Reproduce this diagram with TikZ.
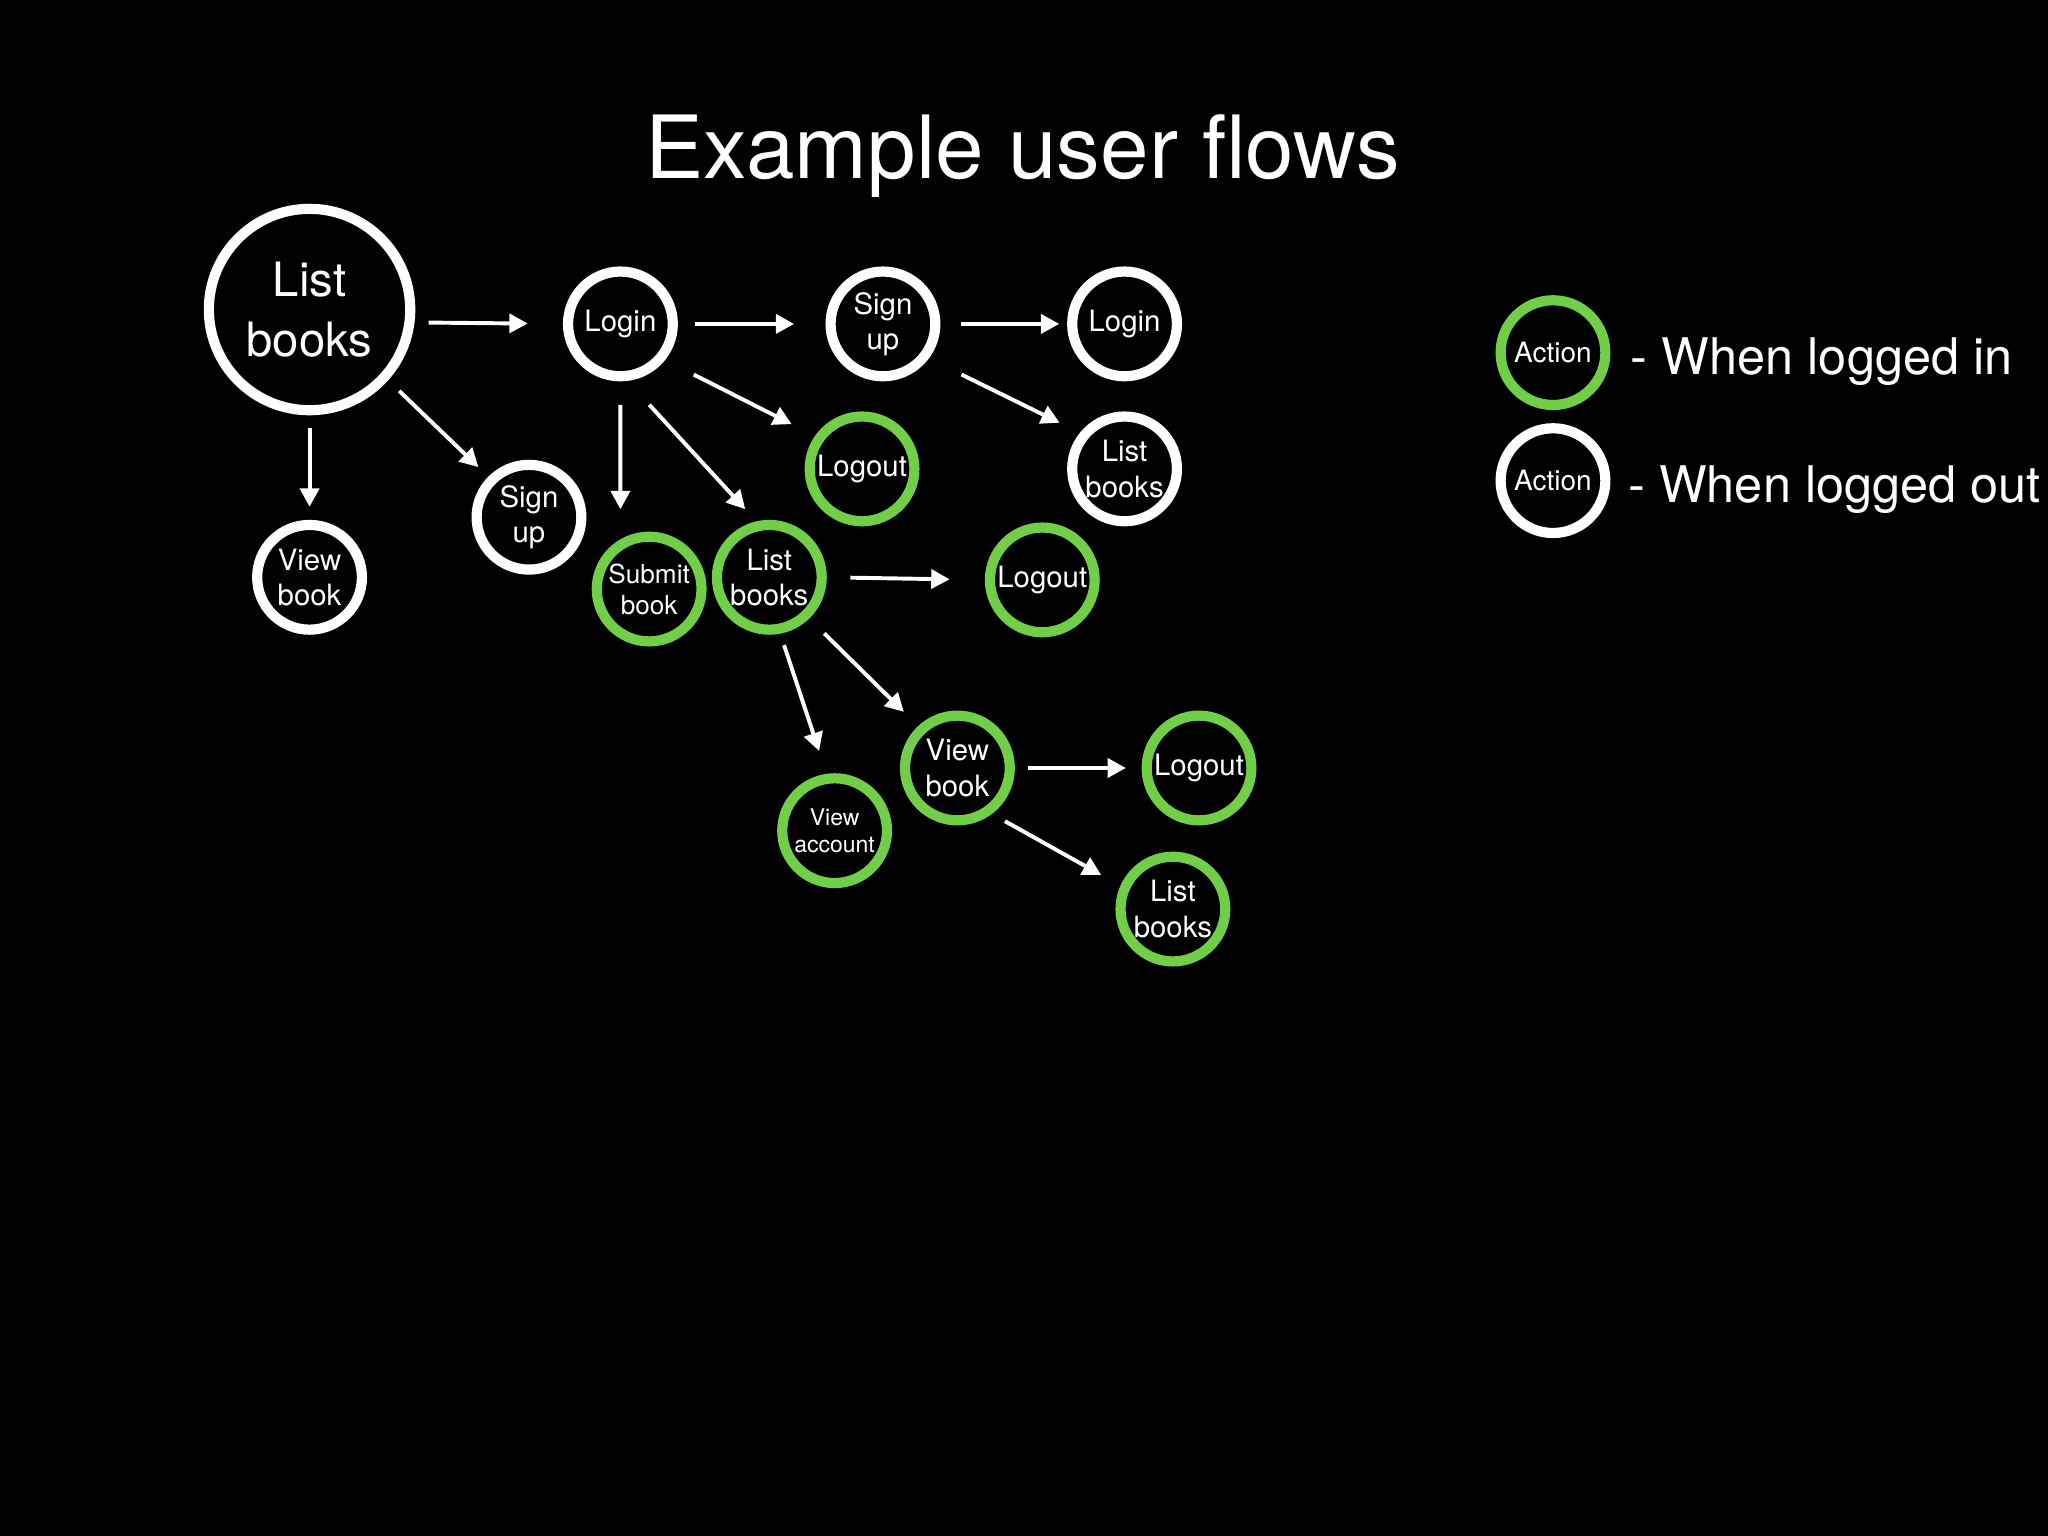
\documentclass[tikz,border=0pt]{standalone}
\usepackage{fontspec}
\setmainfont{TeX Gyre Heros}
\usepackage{xcolor}
\usepackage{tikz}
\usetikzlibrary{arrows.meta}
\definecolor{loggedin}{RGB}{112,207,71}
\tikzset{ state_out/.style = {circle, draw=white, line width=0.78mm, minimum size=8.02mm, inner sep=0pt, text=white, align=center, font=\fontsize{6.4}{7.7}\selectfont} }
\tikzset{ state_in/.style = {state_out, draw=loggedin} }
\tikzset{ flow/.style = {white, line width=0.3mm, -{Triangle[length=1.4mm,width=1.45mm]}} }
\tikzset{ legend_text/.style = {text=white, inner sep=0pt, anchor=base west, font=\fontsize{11}{13}\selectfont} }

\begin{document}
\begin{tikzpicture}
    \fill[black] (0,0) rectangle (15.68,-11.76);
    \useasboundingbox (0,0) rectangle (15.68,-11.76);
    \node[anchor=base, text=white, font=\fontsize{19}{23}\selectfont] (title) at (7.83,-1.37) {Example user flows};
    \node[state_out, minimum size=15.42mm, font=\fontsize{10.3}{13}\selectfont] (LB) at (2.37,-2.37) {List\\books};
    \node[state_out] (LI) at (4.75,-2.48) {Login};
    \node[state_out] (SU1) at (6.76,-2.48) {Sign\\up};
    \node[state_out] (LI2) at (8.61,-2.48) {Login};
    \node[state_out] (LB2) at (8.61,-3.59) {List\\books};
    \node[state_in] (LO1) at (6.60,-3.59) {Logout};
    \node[state_out] (SU0) at (4.05,-3.96) {Sign\\up};
    \node[state_out] (VB0) at (2.37,-4.42) {View\\book};
    \node[state_in, font=\fontsize{5.7}{6.8}\selectfont] (SB) at (4.97,-4.51) {Submit\\book};
    \node[state_in] (LB3) at (5.89,-4.42) {List\\books};
    \node[state_in] (LO2) at (7.98,-4.44) {Logout};
    \node[state_in] (VB1) at (7.33,-5.88) {View\\book};
    \node[state_in, font=\fontsize{5}{6}\selectfont] (VA) at (6.39,-6.36) {View\\account};
    \node[state_in] (LO3) at (9.18,-5.88) {Logout};
    \node[state_in] (LB4) at (8.98,-6.96) {List\\books};
    \node[state_in, font=\fontsize{6.1}{7}\selectfont] (KI) at (11.89,-2.70) {Action};
    \node[state_out, font=\fontsize{6.1}{7}\selectfont] (KO) at (11.89,-3.68) {Action};
    \node[legend_text] (KItext) at (12.48,-2.87) {- When logged in};
    \node[legend_text] (KOtext) at (12.46,-3.85) {- When logged out};
    \draw[flow, shorten <=1.07mm, shorten >=2.7mm] (LB.-7.8) -- (LI.west);
    \draw[flow, shorten <=1mm, shorten >=1mm] (LB.south) -- (VB0.north);
    \draw[flow, shorten <=1.17mm, shorten >=1.05mm] (LB.-42.7) -- (SU0.135.5);
    \draw[flow, shorten <=1.3mm, shorten >=2.4mm] (LI.east) -- (SU1.west);
    \draw[flow, shorten <=2.46mm, shorten >=2mm] (LI.-39.3) -- (LO1.145.4);
    \draw[flow, shorten <=1.8mm, shorten >=2.3mm] (LI.south) -- (SB.120);
    \draw[flow, shorten <=2.48mm, shorten >=1.26mm] (LI.-83.1) -- (LB3.103.8);
    \draw[flow, shorten <=1.6mm, shorten >=0.6mm] (SU1.east) -- (LI2.west);
    \draw[flow, shorten <=2.79mm, shorten >=1.73mm] (SU1.-37.3) -- (LB2.141.6);
    \draw[flow, shorten <=1.8mm, shorten >=2.7mm] (LB3.east) -- (LO2.west);
    \draw[flow, shorten <=0.92mm, shorten >=1.84mm] (LB3.-79.4) -- (VA.98.1);
    \draw[flow, shorten <=1.61mm, shorten >=1.54mm] (LB3.-46.1) -- (VB1.133);
    \draw[flow, shorten <=1mm, shorten >=1.2mm] (VB1.east) -- (LO3.west);
    \draw[flow, shorten <=1.14mm, shorten >=1.69mm] (VB1.-53.8) -- (LB4.156.1);
\end{tikzpicture}
\end{document}
